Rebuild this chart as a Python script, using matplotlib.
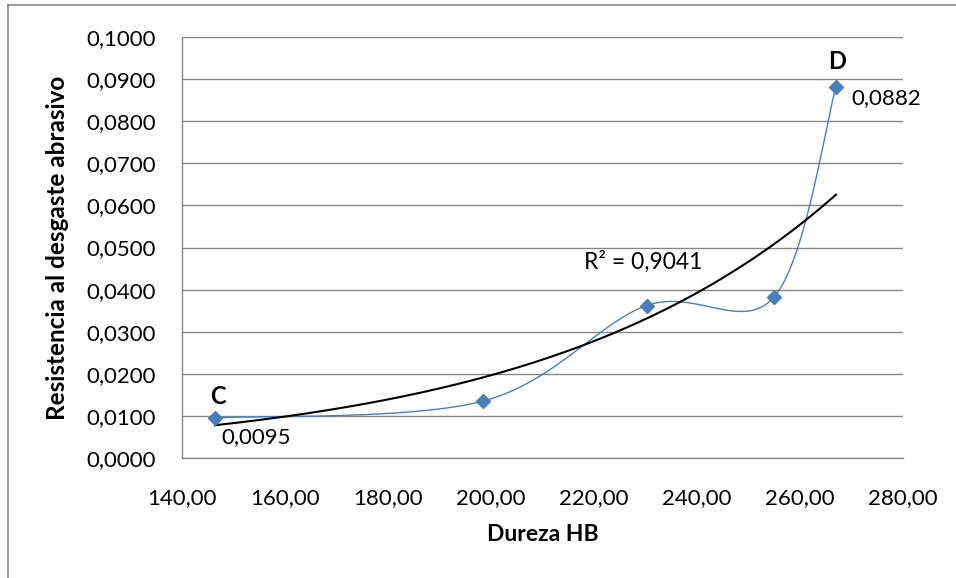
import numpy as np
import matplotlib
matplotlib.use("Agg")
import matplotlib.pyplot as plt
from matplotlib.lines import Line2D

# Data
dureza = [146.4, 198.4, 230.2, 255.0, 267.0]
resistencia = [0.0095, 0.0135, 0.0362, 0.0383, 0.0882]
point_letters = ["C", "", "", "", "D"]
point_values = ["0,0095", "", "", "", "0,0882"]
r2_text = "R² = 0,9041"
x_ticks = [140, 160, 180, 200, 220, 240, 260, 280]
y_ticks = [0.0, 0.01, 0.02, 0.03, 0.04, 0.05, 0.06, 0.07, 0.08, 0.09, 0.10]

plt.rcParams['font.family'] = ['Lato', 'DejaVu Sans']
FS = 16

W, H = 956, 578
fig = plt.figure(figsize=(W / 100, H / 100), dpi=100)
L, R, T, B = 182, 903, 37, 458
ax = fig.add_axes([L / W, 1 - B / H, (R - L) / W, (B - T) / H])
ax.set_xlim(140, 280)
ax.set_ylim(0, 0.1)

# Outer chart border (left & top visible)
fig.add_artist(Line2D([8 / W, 8 / W], [0, 1 - 5 / H], color='#878787', lw=1.2))
fig.add_artist(Line2D([8 / W, 1], [1 - 5 / H, 1 - 5 / H], color='#878787', lw=1.2))

# Grid & spines
ax.set_yticks(y_ticks)
ax.set_xticks(x_ticks)
ax.yaxis.grid(True, color='#878787', lw=1.0)
ax.set_axisbelow(True)
for s in ['top', 'right']:
    ax.spines[s].set_visible(False)
for s in ['left', 'bottom']:
    ax.spines[s].set_color('#878787')
    ax.spines[s].set_linewidth(1.0)
ax.tick_params(length=0, labelsize=FS, colors='black')
ax.tick_params(axis='y', pad=19)
ax.tick_params(axis='x', pad=22)
ax.set_yticklabels([f"{v:.4f}".replace('.', ',') for v in y_ticks])
ax.set_xticklabels([f"{v:.2f}".replace('.', ',') for v in x_ticks])

ax.set_xlabel("Dureza HB", fontsize=16.5, fontweight='bold', labelpad=11)
ax.set_ylabel("Resistencia al desgaste abrasivo", fontsize=17.5, fontweight='bold', labelpad=12)

# Smooth (Excel-like Bezier) line, computed in pixel space
xs = np.array(dureza)
ys = np.array(resistencia)
px = (xs - 140) / 140 * (R - L)
py = ys / 0.1 * (B - T)
P = np.column_stack([px, py])
n = len(P)
curve = []
t = np.linspace(0, 1, 60)
for i in range(n - 1):
    p0 = P[i]
    p3 = P[i + 1]
    prev = P[i - 1] if i > 0 else P[i]
    nxt = P[i + 2] if i + 2 < n else P[i + 1]
    c1 = p0 + (p3 - prev) / 6
    c2 = p3 - (nxt - p0) / 6
    seg = ((1 - t) ** 3)[:, None] * p0 + (3 * (1 - t) ** 2 * t)[:, None] * c1 \
        + (3 * (1 - t) * t ** 2)[:, None] * c2 + (t ** 3)[:, None] * p3
    curve.append(seg)
curve = np.vstack(curve)
cx = curve[:, 0] / (R - L) * 140 + 140
cy = curve[:, 1] / (B - T) * 0.1
ax.plot(cx, cy, color='#4a7ebb', lw=1.0, zorder=3)
ax.plot(xs, ys, linestyle='none', marker='D', markersize=7.5, color='#4a7ebb', zorder=4)

# Exponential trendline
b, lna = np.polyfit(xs, np.log(ys), 1)
tx = np.linspace(xs.min(), xs.max(), 200)
ax.plot(tx, np.exp(lna) * np.exp(b * tx), color='black', lw=1.5, zorder=3)

ax.text(140 + (584 - L) / (R - L) * 140, (B - 262) / (B - T) * 0.1, r2_text,
        fontsize=16.5, ha='left', va='center')

# Point labels
for i, (letter, val) in enumerate(zip(point_letters, point_values)):
    if not letter:
        continue
    x0, y0 = xs[i], ys[i]
    if i == 0:
        ax.text(x0 + 0.5, y0 + 0.0024, letter, fontsize=17, fontweight='bold', ha='center', va='bottom')
        ax.text(x0 + 1.3, y0 - 0.0022, val, fontsize=FS, ha='left', va='top')
    else:
        ax.text(x0 + 0.2, y0 + 0.0032, letter, fontsize=17, fontweight='bold', ha='center', va='bottom')
        ax.text(x0 + 3.0, y0 - 0.0003, val, fontsize=FS, ha='left', va='top')

fig.savefig("out.png", dpi=100)
